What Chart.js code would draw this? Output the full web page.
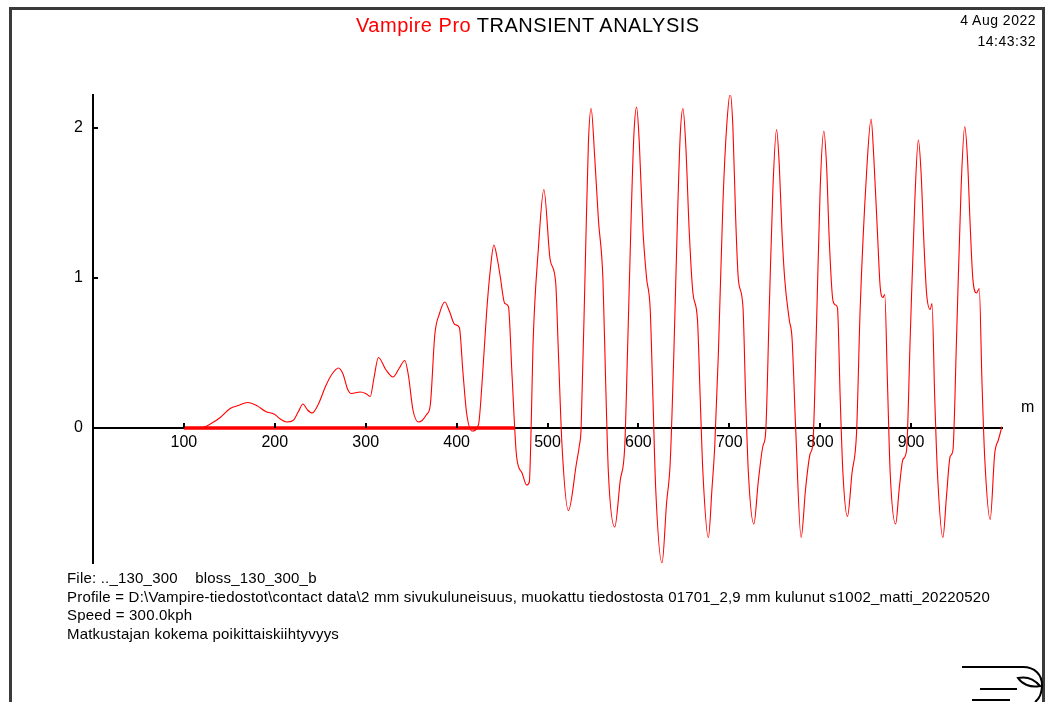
<!DOCTYPE html>
<html>
<head>
<meta charset="utf-8">
<script src="https://cdn.jsdelivr.net/npm/chart.js@4.4.1/dist/chart.umd.min.js"></script>
<style>
  html, body { margin: 0; padding: 0; background: #fff; }
  body { width: 1046px; height: 702px; position: relative; overflow: hidden; font-family: "Liberation Sans", Arial, sans-serif; }
  #frame { position: absolute; left: 9px; top: 7px; width: 1036px; height: 720px; border: 3px solid #3a3a3a; border-bottom: none; box-sizing: border-box; }
  #chart { position: absolute; left: 0; top: 0; }
  .t { position: absolute; white-space: pre; color: #000; }
  #title { left: 356px; top: 14px; font-size: 20px; letter-spacing: 0.5px; }
  #title span { color: #ff0000; }
  #stamp { right: 10px; top: 10px; font-size: 14px; letter-spacing: 0.5px; text-align: right; line-height: 21px; }
  #unit { left: 1021px; top: 398px; font-size: 16px; }
  #foot { left: 67px; top: 569px; font-size: 15px; letter-spacing: 0.2px; line-height: 18.6px; }
  #logo { position: absolute; left: 955px; top: 655px; }
</style>
</head>
<body>
<div id="frame"></div>
<canvas id="chart" width="1046" height="702"></canvas>
<div class="t" id="title"><span>Vampire Pro</span> TRANSIENT ANALYSIS</div>
<div class="t" id="stamp">4 Aug 2022
14:43:32</div>
<div class="t" id="unit">m</div>
<div class="t" id="foot">File: .._130_300    bloss_130_300_b
Profile = D:\Vampire-tiedostot\contact data\2 mm sivukuluneisuus, muokattu tiedostosta 01701_2,9 mm kulunut s1002_matti_20220520
Speed = 300.0kph
Matkustajan kokema poikittaiskiihtyvyys</div>
<svg id="logo" width="91" height="47" viewBox="0 0 91 47">
  <g fill="none" stroke="#000" stroke-width="2">
    <path d="M7 12 H68 C80 12 87 20 87 30 C87 38 84 44 80 47"/>
    <path d="M63 23 C72 21 80 25 85 31 C75 33 67 29 63 23 Z"/>
    <path d="M25 34 H62"/>
    <path d="M17 45 H55"/>
  </g>
</svg>
<script>
// distance along track (m) and lateral acceleration
const distance = [
  100, 118, 130, 140, 151, 160, 170, 180, 190, 200, 206, 213, 220, 226, 231, 236, 241, 248, 256, 263,
  270, 275, 280, 284, 294, 300, 305, 309, 314, 322, 330, 337, 343, 347, 352, 358, 362, 367, 371, 376,
  381, 387, 392, 398, 403, 407, 411, 417, 424, 428, 433, 437, 441, 445, 448, 453, 457, 461, 466, 472,
  477, 480, 482, 484, 490, 496, 503, 509, 512, 516, 523, 532, 535, 537, 542, 545, 548, 552, 556, 561,
  564, 567, 574, 580, 585, 588, 592, 595, 598, 601, 605, 609, 613, 616, 619, 626, 631, 635, 639, 643,
  646, 649, 652, 656, 660, 665, 668, 671, 677, 681, 684, 688, 693, 697, 701, 704, 707, 710, 715, 718,
  721, 727, 732, 737, 740, 744, 748, 752, 755, 758, 761, 766, 769, 773, 779, 784, 789, 792, 796, 800,
  804, 807, 810, 814, 817, 819, 822, 825, 830, 835, 840, 844, 851, 856, 859, 863, 866, 869, 871, 874,
  877, 883, 887, 891, 895, 899, 904, 908, 911, 914, 917, 921, 923, 926, 929, 935, 939, 943, 946, 950,
  955, 959, 962, 965, 968, 972, 975, 978, 981, 987, 992, 996, 1000
];
const accel = [
  0, 0, 0.03, 0.07, 0.13, 0.15, 0.17, 0.15, 0.11, 0.09, 0.06, 0.04, 0.05, 0.11, 0.16, 0.12, 0.10, 0.16, 0.28, 0.36,
  0.40, 0.36, 0.26, 0.23, 0.24, 0.23, 0.21, 0.33, 0.47, 0.39, 0.34, 0.40, 0.45, 0.35, 0.12, 0.04, 0.05, 0.09, 0.15, 0.62,
  0.76, 0.84, 0.78, 0.69, 0.67, 0.37, 0.10, -0.02, 0.02, 0.30, 0.77, 1.05, 1.22, 1.12, 1.01, 0.83, 0.81, 0.35, -0.19, -0.30,
  -0.38, -0.36, 0.00, 0.54, 1.20, 1.59, 1.12, 0.97, 0.50, -0.12, -0.55, -0.23, -0.12, 0.00, 1.20, 1.90, 2.13, 1.80, 1.39, 0.99,
  0.30, -0.30, -0.66, -0.35, -0.12, 0.50, 1.40, 1.95, 2.14, 1.90, 1.32, 1.00, 0.79, 0.20, -0.40, -0.90, -0.50, -0.23, 0.50, 1.40,
  1.95, 2.13, 1.90, 1.30, 0.90, 0.72, 0.20, -0.30, -0.73, -0.40, -0.12, 0.50, 1.50, 2.00, 2.23, 2.00, 1.40, 0.99, 0.81, 0.20,
  -0.30, -0.64, -0.35, -0.12, -0.03, 0.80, 1.60, 1.99, 1.75, 1.30, 0.99, 0.72, 0.60, 0.00, -0.73, -0.40, -0.17, -0.10, 0.70, 1.60,
  1.98, 1.75, 1.25, 0.85, 0.82, 0.80, 0.20, -0.30, -0.59, -0.30, -0.03, 0.80, 1.70, 2.06, 1.80, 1.30, 0.94, 0.87, 0.89, 0.30,
  -0.30, -0.64, -0.40, -0.21, -0.15, 0.60, 1.50, 1.92, 1.70, 1.25, 0.90, 0.79, 0.83, 0.20, -0.30, -0.73, -0.45, -0.19, -0.15, 0.60,
  1.60, 2.01, 1.80, 1.35, 0.99, 0.90, 0.93, 0.30, -0.20, -0.61, -0.17, -0.08, 0.01
];
// thick marker along the zero line
const markerFrom = [100, 464];
const markerValue = [0, 0];

const xTicks = [100, 200, 300, 400, 500, 600, 700, 800, 900];
const yTicks = [0, 1, 2];

const inwardTicks = {
  id: 'inwardTicks',
  afterDraw(chart) {
    const { ctx, scales: { x, y } } = chart;
    const x0 = x.getPixelForValue(0), y0 = y.getPixelForValue(0);
    ctx.save();
    ctx.strokeStyle = '#000';
    ctx.lineWidth = 2;
    ctx.beginPath();
    xTicks.forEach(v => { const px = Math.round(x.getPixelForValue(v)); ctx.moveTo(px, y0); ctx.lineTo(px, y0 - 5); });
    yTicks.forEach(v => { const py = Math.round(y.getPixelForValue(v)); ctx.moveTo(x0, py); ctx.lineTo(x0 + 5, py); });
    ctx.stroke();
    ctx.restore();
  }
};

new Chart(document.getElementById('chart'), {
  type: 'line',
  data: {
    datasets: [{
      data: distance.map((d, i) => ({ x: d, y: accel[i] })),
      borderColor: '#ff0000',
      borderWidth: 1.1,
      pointRadius: 0,
      cubicInterpolationMode: 'monotone',
      fill: false
    }, {
      data: markerFrom.map((d, i) => ({ x: d, y: markerValue[i] })),
      borderColor: '#ff0000',
      borderWidth: 3.5,
      pointRadius: 0,
      fill: false
    }]
  },
  options: {
    responsive: false,
    animation: false,
    devicePixelRatio: 1,
    layout: { padding: { left: 63, top: 95, right: 44, bottom: 139 } },
    plugins: { legend: { display: false }, tooltip: { enabled: false } },
    scales: {
      x: {
        type: 'linear', min: 0, max: 1000,
        position: { y: 0 },
        afterBuildTicks: s => { s.ticks = xTicks.map(v => ({ value: v })); },
        grid: { display: false, drawTicks: false },
        border: { display: true, color: '#000', width: 2 },
        ticks: { color: '#000', padding: 5, maxRotation: 0, font: { family: 'Liberation Sans', size: 16 } }
      },
      y: {
        type: 'linear', min: -0.9, max: 2.22,
        position: 'left',
        afterFit: s => { s.width = 30; },
        afterBuildTicks: s => { s.ticks = yTicks.map(v => ({ value: v })); },
        grid: { display: false, drawTicks: false },
        border: { display: true, color: '#000', width: 2 },
        ticks: { color: '#000', padding: 10, font: { family: 'Liberation Sans', size: 16 } }
      }
    }
  },
  plugins: [inwardTicks]
});
</script>
</body>
</html>
